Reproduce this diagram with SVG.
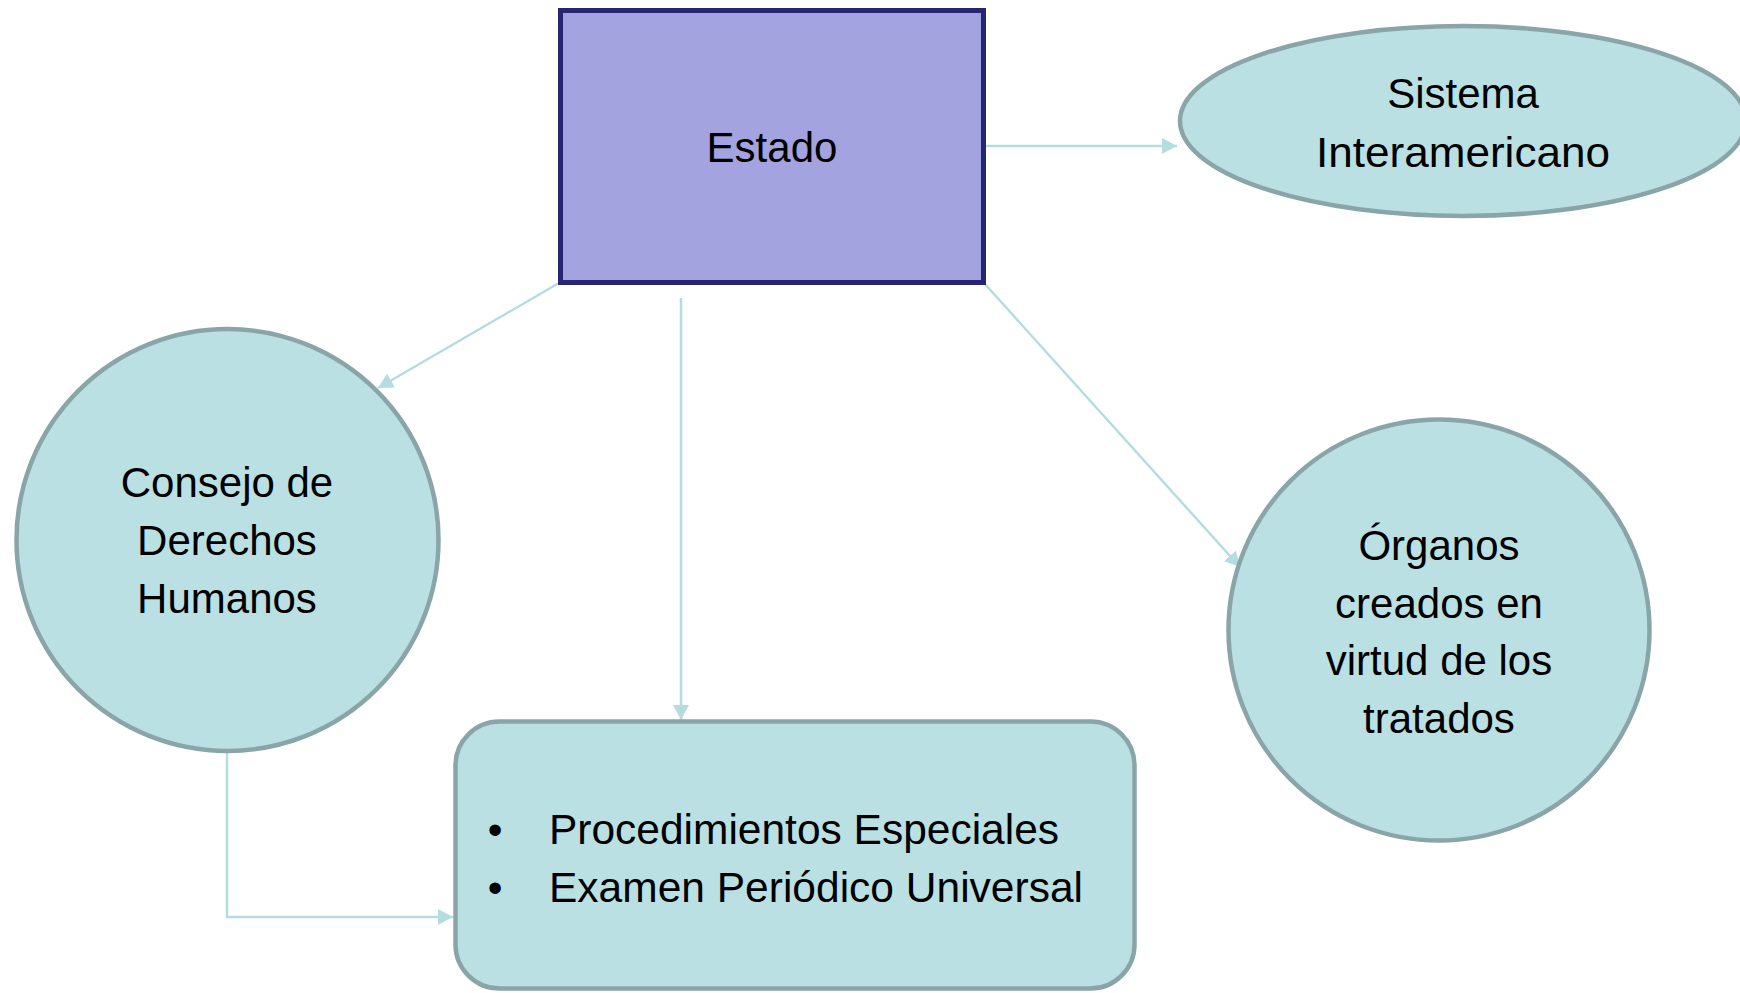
<svg xmlns="http://www.w3.org/2000/svg" width="1740" height="993" viewBox="0 0 1740 993">
<style>
.lbl{font-family:"Liberation Sans",Arial,sans-serif;font-size:42px;fill:#000;text-anchor:middle}
.blt{font-family:"Liberation Sans",Arial,sans-serif;font-size:42px;fill:#000}
.node{fill:#BAE0E3;stroke:#8AA5A7;stroke-width:4.5}
.conn{fill:none;stroke:#B4DDE1;stroke-width:2.5}
</style>
<defs>
<marker id="ah" markerUnits="userSpaceOnUse" markerWidth="16" markerHeight="16" viewBox="0 0 16 16" refX="15" refY="8" orient="auto">
<path d="M0,0 L15,8 L0,16 Z" fill="#B4DDE1"/>
</marker>
</defs>
<rect width="1740" height="993" fill="#FFFFFF"/>
<g id="connectors">
<line class="conn" x1="986" y1="146" x2="1177" y2="146" marker-end="url(#ah)"/>
<line class="conn" x1="559" y1="283" x2="378" y2="388" marker-end="url(#ah)"/>
<line class="conn" x1="984" y1="283" x2="1240" y2="567" marker-end="url(#ah)"/>
<line class="conn" x1="681" y1="298" x2="681" y2="720" marker-end="url(#ah)"/>
<polyline class="conn" points="227,752 227,917 453,917" marker-end="url(#ah)"/>
</g>
<g id="estado">
<rect x="560.5" y="10.5" width="423" height="272" fill="#A3A3DF" stroke="#262673" stroke-width="5"/>
<text class="lbl" x="772" y="162">Estado</text>
</g>
<g id="sistema">
<ellipse class="node" cx="1463" cy="121" rx="283" ry="95"/>
<text class="lbl" x="1463" y="108">Sistema</text>
<text class="lbl" x="1463" y="167" textLength="294" lengthAdjust="spacingAndGlyphs">Interamericano</text>
</g>
<g id="consejo">
<circle class="node" cx="227.5" cy="540" r="211"/>
<text class="lbl" x="227" y="497">Consejo de</text>
<text class="lbl" x="227" y="555">Derechos</text>
<text class="lbl" x="227" y="613">Humanos</text>
</g>
<g id="organos">
<circle class="node" cx="1439" cy="630" r="210.5"/>
<text class="lbl" x="1439" y="560">Órganos</text>
<text class="lbl" x="1439" y="618">creados en</text>
<text class="lbl" x="1439" y="675">virtud de los</text>
<text class="lbl" x="1439" y="733">tratados</text>
</g>
<g id="procedimientos">
<rect class="node" x="455.5" y="721.5" width="679" height="267" rx="44" ry="44" stroke-width="5"/>
<text class="lbl" x="495" y="844" font-size="48">•</text>
<text class="lbl" x="495" y="902" font-size="48">•</text>
<text class="blt" x="549" y="844" textLength="510" lengthAdjust="spacingAndGlyphs">Procedimientos Especiales</text>
<text class="blt" x="549" y="902" textLength="534" lengthAdjust="spacingAndGlyphs">Examen Periódico Universal</text>
</g>
</svg>
